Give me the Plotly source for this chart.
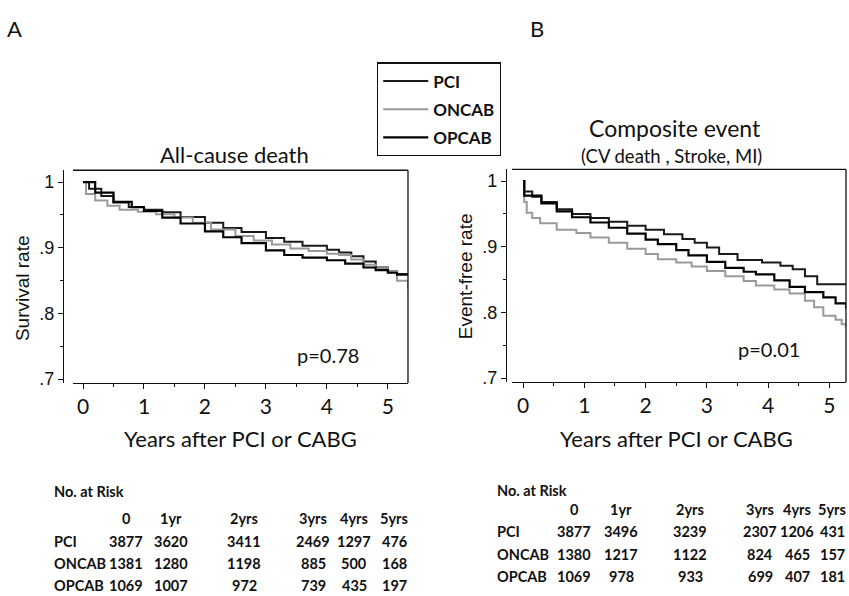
import plotly.graph_objects as go

# ---- Kaplan-Meier curves, panel A: all-cause death ----
a_pci_t = [0, 0.1, 0.3, 0.5, 0.75, 1.0, 1.3, 1.6, 2.0, 2.3, 2.6, 3.0, 3.3, 3.6, 4.0, 4.2, 4.4, 4.6, 4.8, 5.0, 5.15, 5.33]
a_pci_s = [1.0, 0.990, 0.979, 0.969, 0.962, 0.958, 0.954, 0.947, 0.938, 0.930, 0.924, 0.915, 0.909, 0.903, 0.897, 0.893, 0.887, 0.879, 0.870, 0.864, 0.860, 0.858]

a_oncab_t = [0, 0.05, 0.2, 0.4, 0.6, 0.9, 1.2, 1.5, 1.8, 2.1, 2.5, 2.8, 3.1, 3.4, 3.7, 4.0, 4.2, 4.4, 4.6, 4.8, 5.0, 5.15, 5.33]
a_oncab_s = [1.0, 0.982, 0.972, 0.964, 0.958, 0.955, 0.951, 0.946, 0.938, 0.928, 0.918, 0.911, 0.905, 0.899, 0.895, 0.891, 0.889, 0.882, 0.874, 0.869, 0.863, 0.850, 0.838]

a_opcab_t = [0, 0.2, 0.5, 0.8, 1.0, 1.3, 1.6, 2.0, 2.3, 2.6, 3.0, 3.3, 3.6, 4.0, 4.3, 4.6, 4.8, 5.0, 5.15, 5.33]
a_opcab_s = [1.0, 0.984, 0.970, 0.962, 0.956, 0.946, 0.937, 0.925, 0.916, 0.907, 0.896, 0.889, 0.885, 0.881, 0.876, 0.870, 0.866, 0.862, 0.859, 0.858]

# ---- Kaplan-Meier curves, panel B: composite event ----
b_pci_t = [0, 0.02, 0.15, 0.3, 0.55, 0.8, 1.1, 1.4, 1.7, 2.0, 2.3, 2.6, 2.8, 3.0, 3.2, 3.5, 3.9, 4.2, 4.4, 4.6, 4.8, 5.27]
b_pci_s = [1.0, 0.984, 0.976, 0.968, 0.957, 0.950, 0.944, 0.938, 0.932, 0.926, 0.919, 0.912, 0.906, 0.899, 0.889, 0.880, 0.876, 0.871, 0.866, 0.855, 0.843, 0.843]

b_oncab_t = [0, 0.02, 0.06, 0.15, 0.28, 0.55, 0.87, 1.1, 1.4, 1.7, 2.0, 2.2, 2.5, 2.75, 3.0, 3.3, 3.6, 3.8, 4.1, 4.35, 4.6, 4.75, 4.9, 5.1, 5.2, 5.27]
b_oncab_s = [1.0, 0.968, 0.952, 0.944, 0.936, 0.926, 0.921, 0.914, 0.906, 0.897, 0.889, 0.881, 0.876, 0.870, 0.863, 0.855, 0.848, 0.841, 0.835, 0.829, 0.818, 0.808, 0.795, 0.789, 0.782, 0.777]

b_opcab_t = [0, 0.02, 0.3, 0.55, 0.8, 1.1, 1.4, 1.7, 2.0, 2.2, 2.5, 2.7, 3.0, 3.3, 3.6, 3.8, 4.1, 4.35, 4.6, 4.9, 5.1, 5.27]
b_opcab_s = [1.0, 0.978, 0.966, 0.954, 0.945, 0.937, 0.929, 0.920, 0.911, 0.904, 0.895, 0.887, 0.877, 0.868, 0.862, 0.858, 0.849, 0.839, 0.831, 0.823, 0.814, 0.806]

# ---- numbers at risk ----
risk_cols = ["0", "1yr", "2yrs", "3yrs", "4yrs", "5yrs"]
groups = ["PCI", "ONCAB", "OPCAB"]
risk_a = {"PCI": [3877, 3620, 3411, 2469, 1297, 476],
          "ONCAB": [1381, 1280, 1198, 885, 500, 168],
          "OPCAB": [1069, 1007, 972, 739, 435, 197]}
risk_b = {"PCI": [3877, 3496, 3239, 2307, 1206, 431],
          "ONCAB": [1380, 1217, 1122, 824, 465, 157],
          "OPCAB": [1069, 978, 933, 699, 407, 181]}

y_tickvals = [0.7, 0.8, 0.9, 1.0]
y_ticktext = [".7", ".8", ".9", "1"]
x_tickvals = [0, 1, 2, 3, 4, 5]

W, H = 849, 596
CAL = "Lato, 'Open Sans', sans-serif"
ARI = "'Liberation Sans', Arial, sans-serif"

styles = {"PCI": dict(color="#1a1a1a", width=2.0),
          "ONCAB": dict(color="#9a9a9a", width=2.0),
          "OPCAB": dict(color="#000000", width=2.2)}

fig = go.Figure()

panel_a = {"PCI": (a_pci_t, a_pci_s), "ONCAB": (a_oncab_t, a_oncab_s), "OPCAB": (a_opcab_t, a_opcab_s)}
panel_b = {"PCI": (b_pci_t, b_pci_s), "ONCAB": (b_oncab_t, b_oncab_s), "OPCAB": (b_opcab_t, b_opcab_s)}

for g in groups:
    t, s = panel_a[g]
    fig.add_trace(go.Scatter(x=t, y=s, mode="lines", line=dict(shape="hv", **styles[g]),
                             name=g, legendgroup=g, showlegend=True, xaxis="x", yaxis="y"))
for g in groups:
    t, s = panel_b[g]
    fig.add_trace(go.Scatter(x=t, y=s, mode="lines", line=dict(shape="hv", **styles[g]),
                             name=g, legendgroup=g, showlegend=False, xaxis="x2", yaxis="y2"))


def px_x(p):
    return p / W


def px_y(p):
    return 1 - p / H


common_x = dict(tickvals=x_tickvals, ticks="outside", ticklen=5, tickwidth=1.2, tickcolor="#111",
                showline=True, linecolor="#111", linewidth=1.3, showgrid=False, zeroline=False,
                tickfont=dict(family=CAL, size=21, color="#111"),
                minor=dict(dtick=0.5, ticks="outside", ticklen=3, tickcolor="#111", showgrid=False))
common_y = dict(tickvals=y_tickvals, ticktext=y_ticktext, range=[0.694, 1.018], ticks="outside",
                ticklen=5, tickwidth=1.2, tickcolor="#111", showline=True, linecolor="#111",
                linewidth=1.3, showgrid=False, zeroline=False, anchor="free",
                tickfont=dict(family=ARI, size=18, color="#111"),
                minor=dict(dtick=0.05, ticks="outside", ticklen=3, tickcolor="#111", showgrid=False))

fig.update_layout(
    width=W, height=H, autosize=False,
    margin=dict(l=0, r=0, t=0, b=0),
    paper_bgcolor="white", plot_bgcolor="white",
    xaxis=dict(domain=[px_x(73), px_x(408)], range=[-0.164, 5.33], anchor="y", **common_x),
    yaxis=dict(domain=[px_y(387), px_y(172)], position=px_x(63), **common_y),
    xaxis2=dict(domain=[px_x(512), px_x(846)], range=[-0.18, 5.27], anchor="y2", **common_x),
    yaxis2=dict(domain=[px_y(386), px_y(171)], position=px_x(506), **common_y),
    legend=dict(x=px_x(377), y=px_y(63), xanchor="left", yanchor="top",
                bordercolor="#111", borderwidth=1.2, bgcolor="white",
                font=dict(family=CAL, size=17, color="#111", weight="bold"),
                tracegroupgap=3, itemwidth=45),
    showlegend=True,
)

# box lines (top and right) around each plot region
for xr, yr in (("x domain", "y domain"), ("x2 domain", "y2 domain")):
    fig.add_shape(type="line", xref=xr, yref=yr, x0=0, x1=1, y0=1, y1=1, line=dict(color="#111", width=1.3))
    fig.add_shape(type="line", xref=xr, yref=yr, x0=1, x1=1, y0=0, y1=1, line=dict(color="#111", width=1.3))


def text(x, y, s, size, family=CAL, angle=0, weight="normal", xanchor="center"):
    fig.add_annotation(x=px_x(x), y=px_y(y), xref="paper", yref="paper", text=s, showarrow=False,
                       xanchor=xanchor, yanchor="middle", textangle=angle,
                       font=dict(family=family, size=size, color="#111", weight=weight))


# panel letters and titles
text(14, 29, "A", 22)
text(537, 29, "B", 22)
text(234, 156, "All-cause death", 22)
text(675, 129, "Composite event", 23)
text(671, 158, "(CV death , Stroke, MI)", 18.5)

# axis titles
text(22, 291, "Survival rate", 19, family=ARI, angle=-90)
text(465, 279, "Event-free rate", 19, family=ARI, angle=-90)
text(240, 443, "Years after PCI or CABG", 22)
text(676, 443, "Years after PCI or CABG", 22)

# p-values
text(328, 359, "p=0.78", 20)
text(769, 353, "p=0.01", 20)

# numbers-at-risk tables
TS = 14.5
tables = [
    (risk_a, 52, [126, 171, 244, 313, 354, 394], [497, 524, 547, 569, 591]),
    (risk_b, 495, [574, 621, 690, 760, 797, 832], [495, 515, 537, 560, 582]),
]
for risk, x0, cx, ry in tables:
    text(x0, ry[0], "No. at Risk", TS, weight="bold", xanchor="left")
    for c, lab in zip(cx, risk_cols):
        text(c, ry[1], lab, TS, weight="bold")
    for r, g in enumerate(groups):
        text(x0, ry[2 + r], g, TS, weight="bold", xanchor="left")
        for c, v in zip(cx, risk[g]):
            text(c, ry[2 + r], str(v), TS, weight="bold")

fig.write_html("out.html")
